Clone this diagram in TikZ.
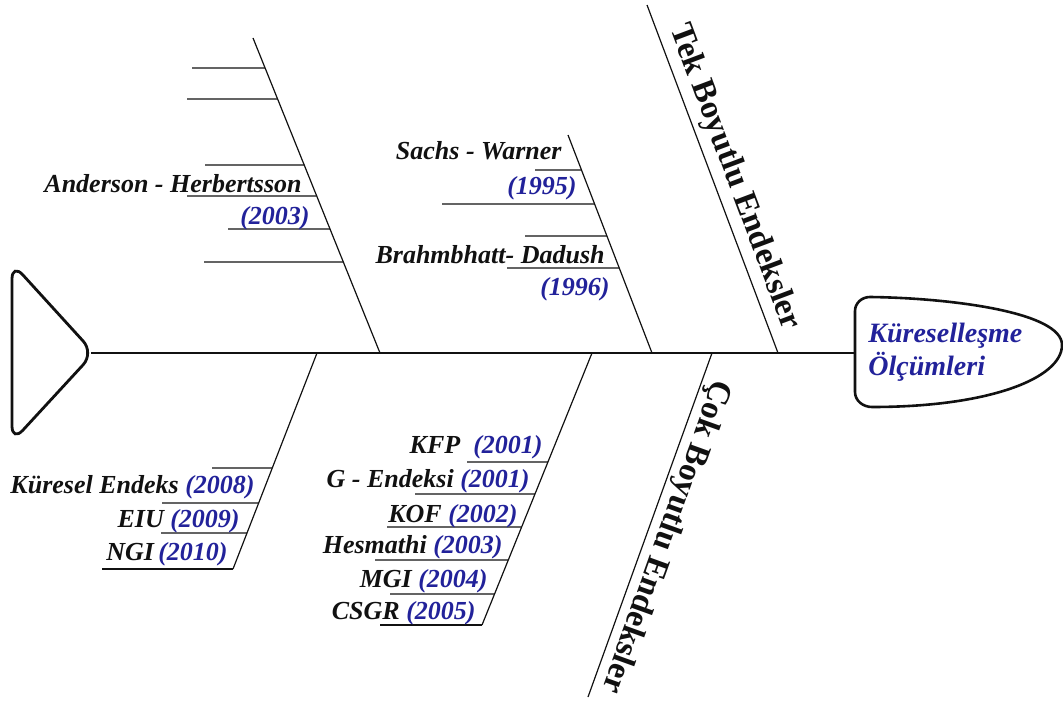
\documentclass[tikz,border=0pt]{standalone}
\usepackage{fontspec}
\setmainfont{Liberation Serif}
\usetikzlibrary{calc}
\definecolor{cInk}{HTML}{111111}
\definecolor{cYear}{HTML}{22229A}
\tikzset{
  spine/.style={line width=1.3pt,color=cInk},
  bone/.style={line width=0.6pt,color=cInk},
  outl/.style={line width=1.4pt,color=cInk,rounded corners=8pt},
  lab/.style={font=\fontsize{13}{15}\selectfont\bfseries\itshape,text=cInk,inner sep=0pt,anchor=base east},
  cat/.style={font=\fontsize{16.5}{18}\selectfont\bfseries,text=cInk,inner sep=0pt,anchor=base west},
  headtxt/.style={font=\fontsize{14}{16}\selectfont\bfseries\itshape,text=cYear,inner sep=0pt,anchor=base west},
}
\newcommand{\yr}[1]{\textcolor{cYear}{#1}}

\begin{document}
\begin{tikzpicture}[x=0.5pt,y=-0.5pt]
    \useasboundingbox (0,0) rectangle (1063,700);
    % tail, head and spine
    \draw[outl] (12,353) -- (12,263) -- (94,353) -- (12,442) -- cycle;
    \coordinate (tip) at (91,353);
    \draw[line width=1.3pt,color=cInk] (855,330) -- (855,311) to[out=90,in=180] (870,297)
      .. controls (950,298) and (1062,312) .. (1062,345)
      .. controls (1062,378) and (990,407) .. (872,407) to[out=180,in=-90] (855,392) -- cycle;
    \coordinate (hd) at (855,353);
    \draw[spine] (tip) -- (hd);
    \node[headtxt] (h1) at (868,342) {Küreselleşme};
    \node[headtxt] (h2) at (868,375) {Ölçümleri};

    % main bones
    \coordinate (Et) at (647,5);   \coordinate (Eb) at (778,353);
    \coordinate (Ft) at (712,353); \coordinate (Fb) at (588,697);
    \draw[bone] (Et) -- (Eb); \draw[bone] (Ft) -- (Fb);
    \node[cat,rotate=-69.4] (tek) at (670,28) {Tek Boyutlu Endeksler};
    \node[cat,rotate=-109.8] (cok) at (714,378) {Çok Boyutlu Endeksler};

    % upper bones
    \coordinate (At) at (253,38);  \coordinate (Ab) at (380,353);
    \coordinate (Bt) at (568,135); \coordinate (Bb) at (652,353);
    \draw[bone] (At) -- (Ab); \draw[bone] (Bt) -- (Bb);
    \foreach \yy/\xl in {68/192,99/187,165/205,196/187,229/228,262/204}
      \draw[bone] (\xl,\yy) -- ($(At)!{(\yy-38)/315}!(Ab)$);
    \foreach \yy/\xl in {170/535,204/442,236/525,268/507}
      \draw[bone] (\xl,\yy) -- ($(Bt)!{(\yy-135)/218}!(Bb)$);
    \node[lab] (and) at (302,192) {Anderson - Herbertsson};
    \node[lab,text=cYear] (and-y) at (310,224) {(2003)};
    \node[lab] (sw) at (562,160) {Sachs - Warner};
    \node[lab,text=cYear] (sw-y) at (577,194) {(1995)};
    \node[lab] (bd) at (605,263) {Brahmbhatt- Dadush};
    \node[lab,text=cYear] (bd-y) at (610,295) {(1996)};

    % lower bones
    \coordinate (Ct) at (317,353); \coordinate (Cb) at (233,569);
    \coordinate (Dt) at (592,353); \coordinate (Db) at (482,625);
    \draw[bone] (Ct) -- (Cb); \draw[bone] (Dt) -- (Db);
    \foreach \yy/\xl in {468/212,503/162,533/161,569/102}
      \draw[bone] (\xl,\yy) -- ($(Ct)!{(\yy-353)/216}!(Cb)$);
    \foreach \yy/\xl in {462/467,494/415,527/387,560/375,594/390,625/380}
      \draw[bone] (\xl,\yy) -- ($(Dt)!{(\yy-353)/272}!(Db)$);
    \node[lab] (ke) at (255,493) {Küresel Endeks \yr{(2008)}};
    \node[lab] (eiu) at (240,527) {EIU \yr{(2009)}};
    \node[lab] (ngi) at (228,560) {NGI\,\yr{(2010)}};
    \node[lab] (kfp) at (543,453) {KFP \ \yr{(2001)}};
    \node[lab] (gen) at (530,487) {G - Endeksi \yr{(2001)}};
    \node[lab] (kof) at (518,522) {KOF \yr{(2002)}};
    \node[lab] (hes) at (503,553) {Hesmathi \yr{(2003)}};
    \node[lab] (mgi) at (488,587) {MGI \yr{(2004)}};
    \node[lab] (csgr) at (476,619) {CSGR \yr{(2005)}};
\end{tikzpicture}
\end{document}
